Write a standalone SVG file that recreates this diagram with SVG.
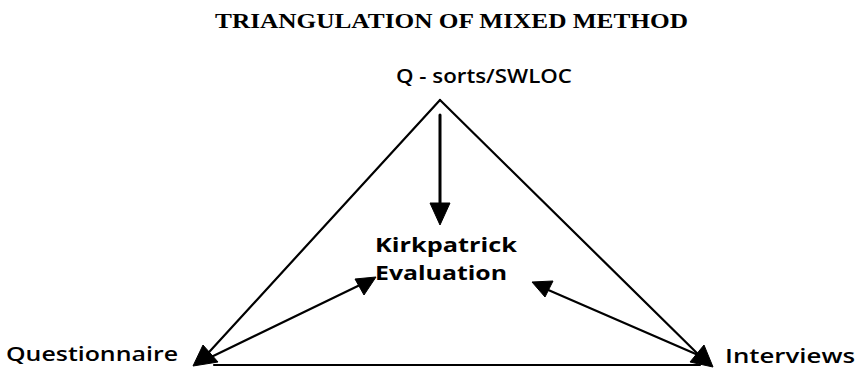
<svg xmlns="http://www.w3.org/2000/svg" width="859" height="370" viewBox="0 0 859 370">
  <style>
    .title { font-family: "Liberation Serif", "DejaVu Serif", serif; font-size: 22px; font-weight: bold; fill: #000; }
    .label { font-family: "Open Sans", "DejaVu Sans", sans-serif; font-size: 20px; font-weight: 600; fill: #000; }
    .bold { font-weight: bold; }
    .edge { stroke: #000; stroke-width: 2.2; fill: none; stroke-linecap: round; }
    .head { fill: #000; stroke: #000; stroke-width: 1; stroke-linejoin: round; }
  </style>

  <rect width="859" height="370" fill="#fff"/>

  <text class="title" x="215" y="28" textLength="473" lengthAdjust="spacingAndGlyphs">TRIANGULATION OF MIXED METHOD</text>

  <g id="connectors">
    <!-- triangle sides -->
    <line class="edge" x1="440" y1="100" x2="200" y2="362"/>
    <line class="edge" x1="440" y1="100" x2="706" y2="362"/>
    <line class="edge" x1="214" y1="365" x2="700" y2="365"/>
    <!-- Q-sorts to centre -->
    <line class="edge" x1="440" y1="115" x2="440" y2="208" style="stroke-width:3"/>
    <polygon class="head" points="440,225 430,203 450,203"/>
    <!-- Questionnaire to centre -->
    <line class="edge" x1="205" y1="360" x2="362" y2="284"/>
    <polygon class="head" points="376,277 355,279 364,295"/>
    <!-- Interviews to centre -->
    <line class="edge" x1="705" y1="358" x2="546" y2="289"/>
    <polygon class="head" points="532,282 553,281 545,297"/>
    <!-- arrowheads at the base corners -->
    <polygon class="head" points="193,366 203,345 218,362"/>
    <polygon class="head" points="713,367 690,362 704,345"/>
  </g>

  <g id="node-qsorts">
    <text class="label" x="396" y="83" textLength="176" lengthAdjust="spacingAndGlyphs">Q - sorts/SWLOC</text>
  </g>
  <g id="node-kirkpatrick">
    <text class="label bold" x="375" y="252" textLength="142" lengthAdjust="spacingAndGlyphs">Kirkpatrick</text>
    <text class="label bold" x="375" y="280" textLength="132" lengthAdjust="spacingAndGlyphs">Evaluation</text>
  </g>
  <g id="node-questionnaire">
    <text class="label" x="6" y="361" textLength="172" lengthAdjust="spacingAndGlyphs">Questionnaire</text>
  </g>
  <g id="node-interviews">
    <text class="label" x="725" y="363" textLength="130" lengthAdjust="spacingAndGlyphs">Interviews</text>
  </g>
</svg>
